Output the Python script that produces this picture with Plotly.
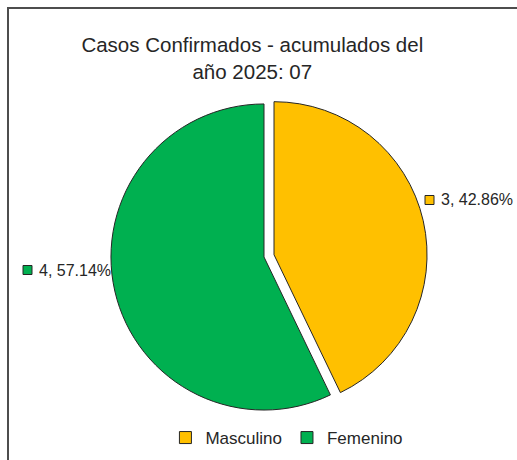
import plotly.graph_objects as go

categories = ["Masculino", "Femenino"]
values = [3, 4]
colors = ["#FFC000", "#00B050"]
title_lines = ["Casos Confirmados - acumulados del", "año 2025: 07"]

W, H = 517, 460
total = sum(values)
pcts = [v / total * 100 for v in values]
label_texts = [f"{v}, {p:.2f}%" for v, p in zip(values, pcts)]

fig = go.Figure(go.Pie(
    labels=categories,
    values=values,
    sort=False,
    direction="clockwise",
    rotation=0,
    pull=[0.067, 0],
    textinfo="none",
    hoverinfo="label+value+percent",
    marker=dict(colors=colors, line=dict(color="#262626", width=1)),
    domain=dict(x=[0.1948, 0.8265], y=[0.0863, 0.7963]),
))

font_family = "Liberation Sans, Arial, sans-serif"
text_color = "#262626"

# outside data labels (right: Masculino, left: Femenino)
label_pos = [(439 / W, 1 - 200 / H), (37 / W, 1 - 270 / H)]
annotations = []
shapes = []
for (x, y), txt, col in zip(label_pos, label_texts, colors):
    annotations.append(dict(
        x=x, y=y, xref="paper", yref="paper", xanchor="left", yanchor="middle",
        text=txt, showarrow=False,
        font=dict(family=font_family, size=16, color=text_color),
    ))
    sx = 14 / W
    sy = 9 / H
    shapes.append(dict(
        type="rect", xref="paper", yref="paper",
        x0=x - sx, x1=x - sx + 9 / W, y0=y - sy / 2, y1=y + sy / 2,
        fillcolor=col, line=dict(color="#262626", width=1),
    ))

# chart frame
shapes.append(dict(
    type="rect", xref="paper", yref="paper",
    x0=8 / W, x1=1.05, y0=-0.05, y1=1 - 8 / H,
    line=dict(color="#4d4d4d", width=2), fillcolor="rgba(0,0,0,0)",
))

fig.update_layout(
    width=W, height=H,
    margin=dict(l=0, r=0, t=0, b=0),
    paper_bgcolor="white",
    plot_bgcolor="white",
    title=dict(
        text="<br>".join(title_lines),
        x=0.488, xanchor="center",
        y=1 - 52 / H, yanchor="top",
        font=dict(family=font_family, size=20.5, color=text_color),
    ),
    legend=dict(
        orientation="h",
        x=0.555, xanchor="center",
        y=1 - 438 / H, yanchor="middle",
        font=dict(family=font_family, size=17, color=text_color),
        itemwidth=30,
        traceorder="normal",
    ),
    annotations=annotations,
    shapes=shapes,
)

fig.write_html(
    "out.html",
    config={"displayModeBar": False},
    post_script="document.body.style.margin='0';document.body.style.padding='0';",
)
